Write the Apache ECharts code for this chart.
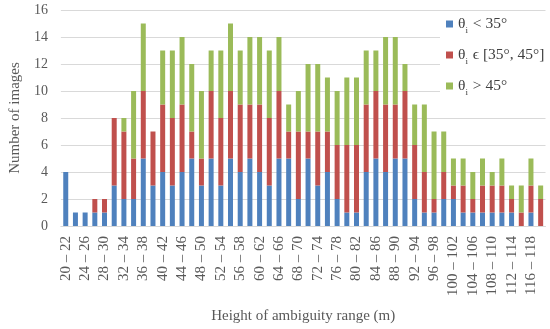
<!DOCTYPE html>
<html>
<head>
<meta charset="utf-8">
<script src="https://cdn.jsdelivr.net/npm/echarts@6/dist/echarts.min.js"></script>
<style>html,body{margin:0;padding:0;background:#fff}#c{width:550px;height:329px}</style>
</head>
<body>
<div id="c"></div>
<script>
const categories = [];
for (let a = 20; a < 120; a += 2) categories.push(a + ' \u2013 ' + (a + 2));

const seriesNames = ['\u03b8i < 35\u00b0', '\u03b8i \u03f5 [35\u00b0, 45\u00b0]', '\u03b8i > 45\u00b0'];
const low = [4,1,1,1,1,3,2,2,5,3,4,3,4,5,3,5,3,5,4,5,4,3,5,5,2,5,3,4,2,1,1,4,5,4,5,5,2,1,1,2,2,1,1,1,1,1,1,0,1,0];
const mid = [0,0,0,1,1,5,5,3,5,4,5,5,5,2,2,5,5,5,5,4,5,5,5,2,5,2,4,3,4,5,5,5,5,5,4,5,4,3,1,2,1,2,1,2,2,2,1,1,2,2];
const high = [0,0,0,0,0,0,1,5,5,0,4,5,5,5,5,3,5,5,4,5,5,5,4,2,3,5,5,4,4,5,5,4,3,5,5,2,3,5,5,3,2,2,2,2,1,2,1,2,2,1];
const colors = ['#4F81BD', '#C0504D', '#9BBB59'];
const yTicks = { min: 0, max: 16, interval: 2 };

const serif = '"Liberation Serif", "DejaVu Serif", serif';
const chart = echarts.init(document.getElementById('c'), null, { renderer: 'canvas' });
const mk = (name, data, color) => ({
  name, type: 'bar', stack: 'all', data, barWidth: 5,
  itemStyle: { color }, emphasis: { disabled: true }
});
chart.setOption({
  animation: false,
  grid: { left: 49, right: 4.5, top: 10, bottom: 96 },
  legend: {
    orient: 'vertical', left: 440, top: 13,
    itemWidth: 7, itemHeight: 7, itemGap: 12,
    icon: 'rect',
    backgroundColor: '#ffffff',
    padding: [3, 12, 3, 6],
    data: seriesNames,
    formatter: function (n) {
      const rest = n.slice(2);
      return '{a|\u03b8}{s|i}{a|' + rest + '}';
    },
    textStyle: {
      rich: {
        a: { fontFamily: serif, fontSize: 15.5, color: '#404040' },
        s: { fontFamily: serif, fontSize: 9, color: '#404040', verticalAlign: 'bottom', padding: [0, 1, -3, 0] }
      }
    }
  },
  xAxis: {
    type: 'category', data: categories,
    name: 'Height of ambiguity range (m)', nameLocation: 'middle', nameGap: 83,
    nameTextStyle: { fontFamily: serif, fontSize: 15, color: '#595959' },
    axisLine: { lineStyle: { color: '#d9d9d9' } },
    axisTick: { show: false },
    axisLabel: { interval: 1, rotate: 90, margin: 10, fontFamily: serif, fontSize: 15, color: '#595959' }
  },
  yAxis: {
    type: 'value', min: yTicks.min, max: yTicks.max, interval: yTicks.interval,
    name: 'Number of images', nameLocation: 'middle', nameGap: 34, nameRotate: 90,
    nameTextStyle: { fontFamily: serif, fontSize: 15, color: '#595959' },
    axisLine: { show: false }, axisTick: { show: false },
    axisLabel: { margin: 13, fontFamily: serif, fontSize: 14, color: '#595959' },
    splitLine: { lineStyle: { color: '#d9d9d9' } }
  },
  series: [mk(seriesNames[0], low, colors[0]), mk(seriesNames[1], mid, colors[1]), mk(seriesNames[2], high, colors[2])]
});
</script>
</body>
</html>
